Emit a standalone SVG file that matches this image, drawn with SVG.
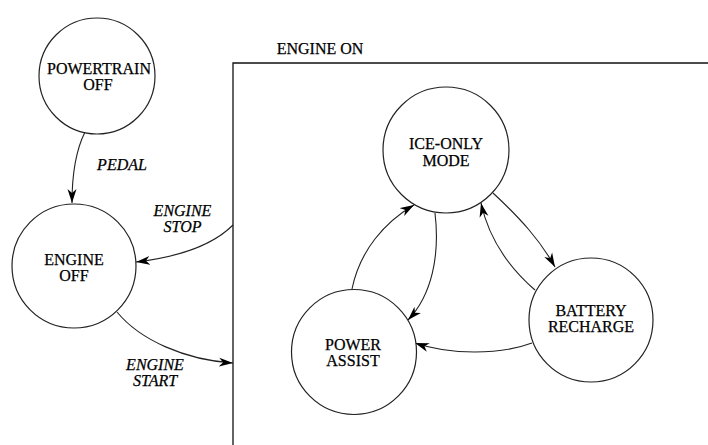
<svg xmlns="http://www.w3.org/2000/svg" width="708" height="445" viewBox="0 0 708 445">
<style>
.node{fill:#fff;stroke:#222;stroke-width:1.2}
.lbl{font-family:"Liberation Serif","Times New Roman",serif;font-size:16px;fill:#000;stroke:#000;stroke-width:0.25;text-anchor:middle}
.ev{font-family:"Liberation Serif","Times New Roman",serif;font-size:16px;font-style:italic;fill:#000;stroke:#000;stroke-width:0.25;text-anchor:middle}
.edge{fill:none;stroke:#222;stroke-width:1.1;marker-end:url(#ah)}
.frame{fill:none;stroke:#111;stroke-width:1.3}
</style>
<defs>
<marker id="ah" markerUnits="userSpaceOnUse" viewBox="0 0 14 10" refX="14" refY="5" markerWidth="14" markerHeight="10" orient="auto">
<path d="M0,0.5 L14,5 L0,9.5 L4,5 Z" fill="#000"/>
</marker>
</defs>
<rect width="708" height="445" fill="#fff"/>
<g id="engine-on">
<path class="frame" d="M233,445 L233,63 L708,63"/>
<text class="lbl" x="320" y="53.5">ENGINE ON</text>
</g>
<g id="connectors">
<path class="edge" d="M85,132 C77,148 72,170 72,203"/>
<path class="edge" d="M233,225 C210,248 170,258 136,262"/>
<path class="edge" d="M117,312 C140,340 185,360 233,363"/>
<path class="edge" d="M352,289 C360,250 385,222 414,205"/>
<path class="edge" d="M435,213 C440,255 432,295 408,320"/>
<path class="edge" d="M535,290 C505,264 488,235 481,203"/>
<path class="edge" d="M493,193 C520,218 540,240 555,267"/>
<path class="edge" d="M532,343 C500,355 450,355 415,343"/>
</g>
<g id="edge-labels">
<text class="ev" x="122" y="170">PEDAL</text>
<text class="ev" x="182.5" y="216">ENGINE</text>
<text class="ev" x="182.5" y="232">STOP</text>
<text class="ev" x="155" y="370">ENGINE</text>
<text class="ev" x="155" y="386">START</text>
</g>
<g id="powertrain-off">
<circle class="node" cx="97" cy="76" r="58"/>
<text class="lbl" x="99" y="74">POWERTRAIN</text>
<text class="lbl" x="98" y="90">OFF</text>
</g>
<g id="engine-off">
<circle class="node" cx="74" cy="266" r="62"/>
<text class="lbl" x="74" y="265">ENGINE</text>
<text class="lbl" x="74" y="281">OFF</text>
</g>
<g id="ice-only">
<circle class="node" cx="446" cy="150" r="63"/>
<text class="lbl" x="446" y="149">ICE-ONLY</text>
<text class="lbl" x="446" y="166">MODE</text>
</g>
<g id="power-assist">
<circle class="node" cx="354" cy="352" r="62.5"/>
<text class="lbl" x="353" y="350">POWER</text>
<text class="lbl" x="353" y="366">ASSIST</text>
</g>
<g id="battery-recharge">
<circle class="node" cx="591" cy="320" r="62"/>
<text class="lbl" x="591" y="316">BATTERY</text>
<text class="lbl" x="591" y="332">RECHARGE</text>
</g>
</svg>
